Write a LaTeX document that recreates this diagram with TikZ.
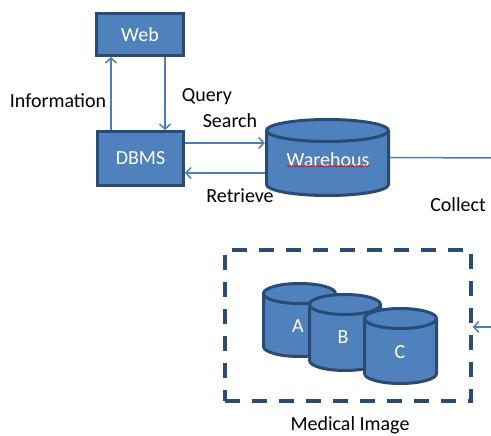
\documentclass[tikz,border=0pt]{standalone}
\usepackage{fontspec}
\setmainfont{Carlito}
\usetikzlibrary{arrows.meta,decorations.pathmorphing}
\definecolor{fillblue}{HTML}{4F81BD}
\definecolor{edgeblue}{HTML}{2A4B73}
\definecolor{arrblue}{HTML}{4A7EBB}
\tikzset{
  boxnode/.style={draw=edgeblue, line width=3pt, fill=fillblue, text=white, font=\fontsize{20}{22}\selectfont, inner sep=0pt},
  cylshape/.style={draw=edgeblue, line width=3pt, fill=fillblue},
  arr/.style={draw=arrblue, line width=1.5pt, -{Straight Barb[length=5pt,width=11pt,line width=1.5pt]}},
  plainline/.style={draw=arrblue, line width=1.5pt},
  lbl/.style={font=\fontsize{20}{22}\selectfont, text=black, inner sep=0pt},
  intext/.style={font=\fontsize{20}{22}\selectfont, text=white, inner sep=0pt},
  medbox/.style={draw=edgeblue, line width=3.5pt, dash pattern=on 15pt off 12pt, inner sep=0pt}
}
% cylinder: x1, x2, ytop, ybot, ry (pixel coords, y downward)
\newcommand{\mycyl}[5]{%
  \pgfmathsetmacro{\rxv}{(#2-#1)/2}%
  \path[cylshape] (#1,{#3+#5}) -- (#1,{#4-#5})
    arc[start angle=180,end angle=360,x radius=\rxv pt,y radius=#5pt]
    -- (#2,{#3+#5})
    arc[start angle=0,end angle=180,x radius=\rxv pt,y radius=#5pt] -- cycle;
  \draw[draw=edgeblue, line width=3pt] (#1,{#3+#5})
    arc[start angle=180,end angle=360,x radius=\rxv pt,y radius=#5pt];
}
\begin{document}
\begin{tikzpicture}[x=1pt,y=-1pt]
\useasboundingbox (0,0) rectangle (491,436);

% boxes
\node[boxnode, minimum width=87pt, minimum height=42pt] (web) at (140,34.5) {Web};
\node[boxnode, minimum width=86pt, minimum height=54pt] (dbms) at (140.5,158.5) {DBMS};

% warehouse cylinder
\mycyl{266.5}{388.5}{119.5}{195.5}{11}
\node[minimum width=125pt, minimum height=79pt, inner sep=0pt] (wh) at (327.5,157.5) {};
\node[intext] (whtext) at (328,160) {Warehous};
\draw[red, line width=0.6pt, decorate, decoration={snake, segment length=3pt, amplitude=0.8pt}]
  ([yshift=1pt]whtext.south west) -- ([yshift=1pt]whtext.south east);

% medical image box
\node[medbox, minimum width=246pt, minimum height=151pt] (med) at (348,325.5) {};
\mycyl{263.5}{335.5}{283.5}{356.5}{10}
\mycyl{309.5}{380.5}{294.5}{370.5}{10}
\mycyl{364.5}{436.5}{308.5}{383.5}{10}
\node[intext] (ca) at (298,326) {A};
\node[intext] (cb) at (343,337) {B};
\node[intext] (cc) at (400,352) {C};

% connectors
\draw[arr] ([xshift=-29.5pt]dbms.north) -- ([xshift=-29pt]web.south);
\draw[arr] ([xshift=25pt]web.south) -- ([xshift=24.5pt]dbms.north);
\draw[arr] ([yshift=15.5pt]dbms.east) -- ([yshift=15.5pt]dbms.east -| wh.west);
\draw[arr] ([yshift=-14.5pt]dbms.east -| wh.west) -- ([yshift=-14.5pt]dbms.east);

\coordinate (edge1) at (495,158);
\coordinate (edge2) at (495,327);
\draw[plainline] (wh.east) -- (edge1);
\draw[arr] (edge2) -- (edge2 -| med.east);

% labels
\node[lbl] (linfo) at (58,101) {Information};
\node[lbl] (lquery) at (207,97) {Query};
\node[lbl] (lsearch) at (230,121) {Search};
\node[lbl] (lret) at (240,196) {Retrieve};
\node[lbl] (lcol) at (458,205) {Collect};
\node[lbl] (lmed) at (350,425) {Medical Image};
\end{tikzpicture}
\end{document}
